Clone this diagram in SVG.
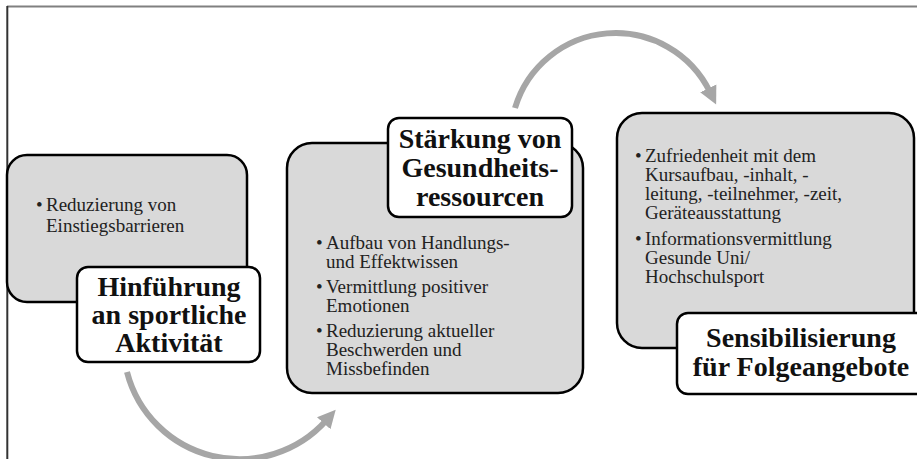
<svg xmlns="http://www.w3.org/2000/svg" width="917" height="459" viewBox="0 0 917 459">
<style>
.panel{fill:#D9D9D9;stroke:#000;stroke-width:2.5}
.title-box{fill:#fff;stroke:#000;stroke-width:2.5}
.body{font-family:"Liberation Serif","Times New Roman",serif;font-size:19px;fill:#222}
.title{font-family:"Liberation Serif","Times New Roman",serif;font-size:28px;font-weight:bold;fill:#111;text-anchor:middle}
.arc{fill:none;stroke:#A6A6A6;stroke-width:6}
</style>
<defs>
<marker id="ah" markerUnits="userSpaceOnUse" markerWidth="20" markerHeight="20" viewBox="0 0 20 20" refX="4" refY="10" orient="auto">
<path d="M0,1 L18,10 L0,19 Z" fill="#A6A6A6"/>
</marker>
</defs>
<rect width="917" height="459" fill="#fff"/>
<line x1="7" y1="6.5" x2="917" y2="6.5" stroke="#808080" stroke-width="2"/>
<line x1="7.3" y1="6" x2="7.3" y2="459" stroke="#333" stroke-width="2"/>

<g id="connectors">
<path class="arc" d="M127,372 A116.3,116.3 0 0 0 326.4,420.3" marker-end="url(#ah)"/>
<path class="arc" d="M515,108 A105,105 0 0 1 710,92" marker-end="url(#ah)"/>
</g>

<g id="node1">
<rect class="panel" x="7" y="155" width="240" height="147" rx="20"/>
<text class="body" x="36" y="211">•</text>
<text class="body" x="46" y="211">Reduzierung von</text>
<text class="body" x="46" y="232">Einstiegsbarrieren</text>
<rect class="title-box" x="77" y="267" width="183" height="95" rx="11"/>
<text class="title" x="169" y="296">Hinführung</text>
<text class="title" x="169" y="324">an sportliche</text>
<text class="title" x="169" y="352">Aktivität</text>
</g>

<g id="node2">
<rect class="panel" x="287" y="143" width="296" height="250" rx="25"/>
<text class="body" x="316" y="249">•</text>
<text class="body" x="326" y="249">Aufbau von Handlungs-</text>
<text class="body" x="326" y="268">und Effektwissen</text>
<text class="body" x="316" y="293">•</text>
<text class="body" x="326" y="293">Vermittlung positiver</text>
<text class="body" x="326" y="312">Emotionen</text>
<text class="body" x="316" y="337">•</text>
<text class="body" x="326" y="337">Reduzierung aktueller</text>
<text class="body" x="326" y="356">Beschwerden und</text>
<text class="body" x="326" y="375">Missbefinden</text>
<rect class="title-box" x="388" y="118" width="184" height="99" rx="11"/>
<text class="title" x="480" y="148">Stärkung von</text>
<text class="title" x="480" y="177">Gesundheits-</text>
<text class="title" x="480" y="206">ressourcen</text>
</g>

<g id="node3">
<rect class="panel" x="617" y="113" width="297" height="235" rx="25"/>
<text class="body" x="635" y="162">•</text>
<text class="body" x="645" y="162">Zufriedenheit mit dem</text>
<text class="body" x="645" y="181">Kursaufbau, -inhalt, -</text>
<text class="body" x="645" y="200">leitung, -teilnehmer, -zeit,</text>
<text class="body" x="645" y="219">Geräteausstattung</text>
<text class="body" x="635" y="245">•</text>
<text class="body" x="645" y="245">Informationsvermittlung</text>
<text class="body" x="645" y="264">Gesunde Uni/</text>
<text class="body" x="645" y="283">Hochschulsport</text>
<rect class="title-box" x="677" y="313" width="250" height="81" rx="11"/>
<text class="title" x="801" y="347">Sensibilisierung</text>
<text class="title" x="801" y="376">für Folgeangebote</text>
</g>
</svg>
